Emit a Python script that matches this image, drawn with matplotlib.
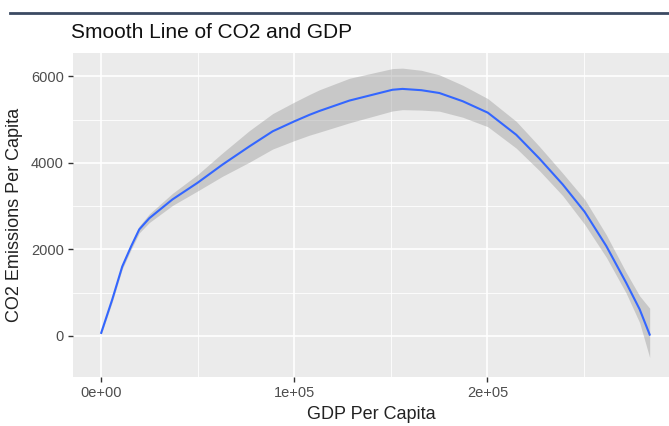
import matplotlib
matplotlib.use("Agg")
import matplotlib.pyplot as plt
from matplotlib.lines import Line2D
from matplotlib.ticker import MultipleLocator

plt.rcParams["font.family"] = ["Liberation Sans", "DejaVu Sans"]

# values
gdp = [0, 5700, 10900, 15500, 19700, 24900, 36900, 49900, 62800, 76700,
       88800, 100000, 107800, 113000, 128500, 150800, 156000, 165800,
       175100, 187200, 200200, 214900, 226900, 239000, 250300, 261500,
       271800, 278800, 284000]
co2 = [70, 840, 1605, 2070, 2462, 2720, 3155, 3540, 3960, 4380,
       4730, 4960, 5110, 5200, 5440, 5690, 5710, 5680,
       5615, 5425, 5160, 4650, 4100, 3500, 2870, 2080,
       1230, 615, 30]
co2_low = [30, 780, 1545, 2000, 2380, 2620, 3015, 3350, 3690, 4015,
           4320, 4515, 4640, 4710, 4925, 5200, 5230, 5220,
           5195, 5055, 4835, 4340, 3820, 3240, 2580, 1820,
           990, 305, -500]
co2_high = [110, 900, 1665, 2140, 2540, 2820, 3295, 3730, 4230, 4745,
            5140, 5405, 5580, 5690, 5955, 6180, 6190, 6140,
            6035, 5795, 5485, 4960, 4380, 3760, 3160, 2340,
            1470, 925, 640]

x_ticks = [0, 100000, 200000]
x_labels = ["0e+00", "1e+05", "2e+05"]
y_ticks = [0, 2000, 4000, 6000]

W, H = 669, 426
fig = plt.figure(figsize=(W / 100, H / 100), dpi=100)
ax = fig.add_axes([73 / W, (H - 377) / H, (W - 73) / W, (377 - 53) / H])

ax.set_facecolor("#EBEBEB")
ax.fill_between(gdp, co2_low, co2_high, color="#999999", alpha=0.42, lw=0, zorder=2)
ax.plot(gdp, co2, color="#3366FF", lw=1.5, zorder=3)

ax.set_xlim(-14600, 294000)
ax.set_ylim(-950, 6540)
ax.set_xticks(x_ticks)
ax.set_xticklabels(x_labels)
ax.set_yticks(y_ticks)
ax.xaxis.set_minor_locator(MultipleLocator(50000))
ax.yaxis.set_minor_locator(MultipleLocator(1000))
ax.grid(which="major", color="white", lw=1.2, zorder=1)
ax.grid(which="minor", color="white", lw=0.6, zorder=1)
ax.set_axisbelow(True)
for s in ax.spines.values():
    s.set_visible(False)
ax.tick_params(which="major", length=3.5, width=1, color="#333333",
               labelcolor="#4D4D4D", labelsize=10.5, pad=3)
ax.tick_params(which="minor", length=0)

ax.set_xlabel("GDP Per Capita", fontsize=13, color="#222222", labelpad=4)
ax.set_ylabel("CO2 Emissions Per Capita", fontsize=13, color="#222222", labelpad=6)

fig.text(71 / W, 1 - 33 / H, "Smooth Line of CO2 and GDP", fontsize=15,
         color="#111111", va="center", ha="left")
fig.add_artist(Line2D([10 / W, 1], [1 - 13 / H, 1 - 13 / H],
                      color="#3B4A62", lw=2))

fig.savefig("out.png", dpi=100)
